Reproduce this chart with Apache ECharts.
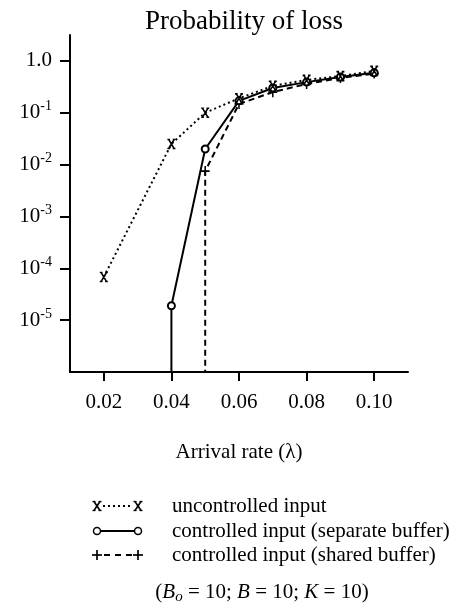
<!DOCTYPE html>
<html>
<head>
<meta charset="utf-8">
<script src="https://cdn.jsdelivr.net/npm/echarts@6/dist/echarts.min.js"></script>
<style>html,body{margin:0;padding:0;background:#fff}#c{width:458px;height:612px}</style>
</head>
<body>
<div id="c"></div>
<script>
// ---- data ----
var titleText = 'Probability of loss';
var xAxisTitle = 'Arrival rate (\u03bb)';
var xTickValues = [0.02, 0.04, 0.06, 0.08, 0.10];
var yTickValues = [1e-5, 1e-4, 1e-3, 1e-2, 1e-1, 1];

var lambdaUncontrolled = [0.02, 0.04, 0.05, 0.06, 0.07, 0.08, 0.09, 0.10];
var lossUncontrolled   = [6.8e-5, 0.025, 0.10, 0.19, 0.33, 0.43, 0.51, 0.64];

// first point: no loss (below the axis), line drops to the axis
var lambdaSeparate = [0.04, 0.04, 0.05, 0.06, 0.07, 0.08, 0.09, 0.10];
var lossSeparate   = [1e-8, 1.9e-5, 0.02, 0.17, 0.30, 0.39, 0.49, 0.59];

var lambdaShared = [0.05, 0.05, 0.06, 0.07, 0.08, 0.09, 0.10];
var lossShared   = [1e-8, 0.0075, 0.148, 0.25, 0.36, 0.47, 0.57];

var seriesNames = ['uncontrolled input', 'controlled input (separate buffer)', 'controlled input (shared buffer)'];

// ---- chart ----
var SERIF = "'Liberation Serif', 'DejaVu Serif', serif";
var X_PATH = 'M0.5,0L3.5,0M6.5,0L9.5,0M2,0L8,10M8,0L2,10M0.5,10L3.5,10M6.5,10L9.5,10';
var PLUS_PATH = 'M5,0L5,10M0,5L10,5';

function pairs(xs, ys, hideFirst) {
  return xs.map(function (x, i) {
    var item = { value: [x, ys[i]] };
    if (hideFirst && i === 0) item.symbol = 'none';
    return item;
  });
}

function seg(x1, y1, x2, y2, w) {
  return { type: 'line', shape: { x1: x1, y1: y1, x2: x2, y2: y2 }, style: { stroke: '#000', lineWidth: w } };
}

var chart = echarts.init(document.getElementById('c'), null, { renderer: 'canvas' });

var legendRows = [
  { y: 506, kind: 'x', dash: [2, 3], w: 2, x1: 103, x2: 132 },
  { y: 531, kind: 'o', dash: null, w: 2, x1: 101, x2: 135 },
  { y: 555, kind: '+', dash: [6, 5], w: 2, x1: 104, x2: 133 }
];
var graphics = [];
legendRows.forEach(function (r, i) {
  graphics.push({
    type: 'line', shape: { x1: r.x1, y1: r.y, x2: r.x2, y2: r.y },
    style: { stroke: '#000', lineWidth: r.w, lineDash: r.dash || null }
  });
  [97, 138].forEach(function (cx) {
    if (r.kind === 'o') {
      graphics.push({ type: 'circle', shape: { cx: cx, cy: r.y, r: 3.5 }, style: { fill: '#fff', stroke: '#000', lineWidth: 1.5 } });
    } else if (r.kind === 'x') {
      graphics.push(seg(cx - 3, r.y - 4.5, cx + 3, r.y + 4.5, 1.6));
      graphics.push(seg(cx + 3, r.y - 4.5, cx - 3, r.y + 4.5, 1.6));
      graphics.push(seg(cx - 4.5, r.y - 4.5, cx - 1.5, r.y - 4.5, 1.3));
      graphics.push(seg(cx + 1.5, r.y - 4.5, cx + 4.5, r.y - 4.5, 1.3));
      graphics.push(seg(cx - 4.5, r.y + 4.5, cx - 1.5, r.y + 4.5, 1.3));
      graphics.push(seg(cx + 1.5, r.y + 4.5, cx + 4.5, r.y + 4.5, 1.3));
    } else {
      graphics.push(seg(cx, r.y - 5, cx, r.y + 5, 1.7));
      graphics.push(seg(cx - 5, r.y, cx + 5, r.y, 1.7));
    }
  });
  graphics.push({
    type: 'text', x: 172, y: r.y,
    style: { text: seriesNames[i], fontFamily: SERIF, fontSize: 21, fill: '#000', verticalAlign: 'middle', align: 'left' }
  });
});
graphics.push({
  type: 'text', x: 262, y: 592,
  style: {
    text: '(' + '{i|B}{sub|o}' + ' = 10; ' + '{i|B}' + ' = 10; ' + '{i|K}' + ' = 10)',
    fontFamily: SERIF, fontSize: 21, fill: '#000', align: 'center', verticalAlign: 'middle',
    rich: {
      i: { fontFamily: SERIF, fontSize: 21, fontStyle: 'italic', fill: '#000' },
      sub: { fontFamily: SERIF, fontSize: 15, fontStyle: 'italic', fill: '#000', padding: [10, 0, 0, 0] }
    }
  }
});

var option = {
  animation: false,
  backgroundColor: '#fff',
  title: {
    text: titleText, left: 239, top: 3, textAlign: 'center',
    textStyle: { fontFamily: SERIF, fontSize: 27, fontWeight: 'normal', color: '#000' }
  },
  grid: { left: 70, right: 50, top: 35, bottom: 240, containLabel: false },
  xAxis: {
    type: 'value', min: 0.01, max: 0.11,
    name: xAxisTitle, nameLocation: 'middle', nameGap: 70,
    nameTextStyle: { fontFamily: SERIF, fontSize: 21, color: '#000' },
    axisLine: { lineStyle: { color: '#000', width: 2 } },
    axisTick: { customValues: xTickValues, length: 9, lineStyle: { color: '#000', width: 2 } },
    axisLabel: {
      customValues: xTickValues, margin: 20,
      fontFamily: SERIF, fontSize: 21, color: '#000',
      formatter: function (v) { return v.toFixed(2); }
    },
    splitLine: { show: false }
  },
  yAxis: {
    type: 'log', logBase: 10, min: 1e-6, max: Math.sqrt(10),
    axisLine: { show: true, lineStyle: { color: '#000', width: 2 } },
    axisTick: { show: true, customValues: yTickValues, length: 10, lineStyle: { color: '#000', width: 2 } },
    axisLabel: {
      customValues: yTickValues, margin: 18,
      fontFamily: SERIF, fontSize: 21, color: '#000',
      formatter: function (v) {
        if (Math.abs(v - 1) < 1e-9) return '1.0';
        var e = Math.round(Math.log(v) / Math.LN10);
        return '{b|10}{s|' + e + '}';
      },
      rich: {
        b: { fontFamily: SERIF, fontSize: 21, color: '#000' },
        s: { fontFamily: SERIF, fontSize: 14, color: '#000', padding: [0, 0, 12, 0] }
      }
    },
    splitLine: { show: false }
  },
  series: [
    {
      name: seriesNames[2], type: 'line', clip: true,
      data: pairs(lambdaShared, lossShared, true),
      symbol: 'path://' + PLUS_PATH, symbolSize: [9, 10],
      lineStyle: { color: '#000', width: 2, type: [6, 4] },
      itemStyle: { color: '#000', borderColor: '#000', borderWidth: 1.6 }
    },
    {
      name: seriesNames[1], type: 'line', clip: true,
      data: pairs(lambdaSeparate, lossSeparate, true),
      symbol: 'emptyCircle', symbolSize: 7,
      lineStyle: { color: '#000', width: 2 },
      itemStyle: { color: '#000', borderColor: '#000', borderWidth: 1.5 }
    },
    {
      name: seriesNames[0], type: 'line', clip: true,
      data: pairs(lambdaUncontrolled, lossUncontrolled, false),
      symbol: 'path://' + X_PATH, symbolSize: [8, 9],
      lineStyle: { color: '#000', width: 2, type: [2, 3] },
      itemStyle: { color: '#000', borderColor: '#000', borderWidth: 1.6 }
    }
  ],
  graphic: graphics
};
chart.setOption(option);
</script>
</body>
</html>
